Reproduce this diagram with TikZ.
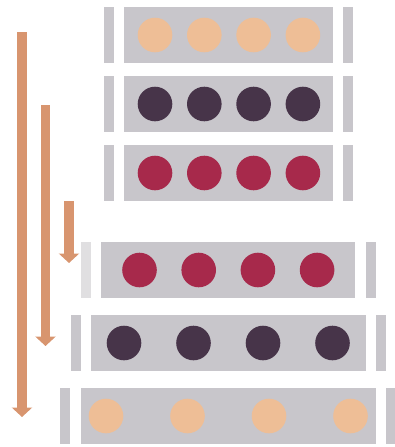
\documentclass[tikz,border=0pt]{standalone}
\usetikzlibrary{arrows.meta,positioning}
\definecolor{traygray}{HTML}{C8C6CB}
\definecolor{paletray}{HTML}{E0DFE1}
\definecolor{peach}{HTML}{EEBE96}
\definecolor{plum}{HTML}{473449}
\definecolor{wine}{HTML}{A7294B}
\definecolor{copper}{HTML}{D8956F}

\begin{document}
\begin{tikzpicture}[x=1pt, y=-1pt,
tray/.style={fill=traygray, inner sep=0pt, minimum height=56pt, anchor=north west},
bar/.style={tray, minimum width=10pt},
dot/.style={circle, inner sep=0pt, minimum size=34.6pt},
sink/.style={draw=copper, line width=9.5pt, -{Triangle[width=20pt, length=9.5pt]}}
]
\useasboundingbox (0,0) rectangle (395,447);

% upper stack, all trays the same
\node[bar] (r1l) at (104,7){};
\node[tray, minimum width=209pt] (r1) at (124,7){};
\node[bar] (r1r) at (343,7){};
\node[bar] (r2l) at (104,76){};
\node[tray, minimum width=209pt] (r2) at (124,76){};
\node[bar] (r2r) at (343,76){};
\node[bar] (r3l) at (104,145){};
\node[tray, minimum width=209pt] (r3) at (124,145){};
\node[bar] (r3r) at (343,145){};

% lower stack, order reversed and spread out
\node[bar, fill=paletray] (r4l) at (81,242){};
\node[tray, minimum width=254pt] (r4) at (101,242){};
\node[bar] (r4r) at (366,242){};
\node[bar] (r5l) at (71,315){};
\node[tray, minimum width=275pt] (r5) at (91,315){};
\node[bar] (r5r) at (376,315){};
\node[bar] (r6l) at (60,388){};
\node[tray, minimum width=295pt] (r6) at (81,388){};
\node[bar, minimum width=9pt] (r6r) at (386,388){};

\foreach \r/\x/\y/\d/\c in {1/155/35/49.3/peach, 2/155/104/49.3/plum, 3/155/173/49.3/wine,
  4/139.5/270/59.2/wine, 5/124/343/69.5/plum, 6/106/416/81.5/peach}{
  \foreach \i in {0,...,3}{
    \node[dot, fill=\c] (r\r d\i) at (\x+\i*\d, \y){};
  }
}

\coordinate (a1s) at (22,32);
\coordinate (a1e) at (22,417);
\coordinate (a2s) at (45.5,105);
\coordinate (a2e) at (45.5,346);
\coordinate (a3s) at (69,201);
\coordinate (a3e) at (69,263);
\foreach \a in {1,2,3}{\draw[sink] (a\a s) -- (a\a e);}
\end{tikzpicture}
\end{document}
